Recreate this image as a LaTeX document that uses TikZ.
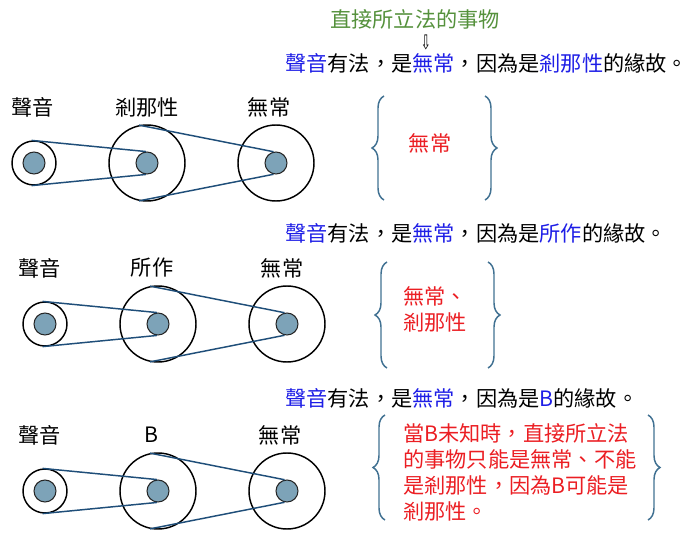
\documentclass[tikz,border=0pt]{standalone}
\usepackage{fontspec}
\setmainfont{Noto Sans CJK TC}
\newfontfamily\symfont{DejaVu Sans}
\usetikzlibrary{decorations.pathreplacing}
\definecolor{beltc}{RGB}{31,78,121}
\definecolor{bracec}{RGB}{65,113,146}
\definecolor{hubc}{RGB}{125,163,184}
\definecolor{kwblue}{RGB}{30,30,230}
\definecolor{kwred}{RGB}{235,30,35}
\definecolor{kwgreen}{RGB}{85,145,60}
\newcommand\kw[1]{\textcolor{kwblue}{#1}}
\begin{document}
\begin{tikzpicture}[x=0.75pt,y=-0.75pt,every node/.style={font=\fontsize{15.9}{19.5}\selectfont},wheel/.style={shape=circle,draw=black,line width=1.1pt,inner sep=0pt},wheelS/.style={wheel,minimum size=33pt},wheelL/.style={wheel,minimum size=57pt},hub/.style={shape=circle,draw=black!85,line width=0.8pt,fill=hubc,inner sep=0pt,minimum size=16.5pt},belt/.style={draw=beltc,line width=1.1pt},sent/.style={anchor=west,inner sep=0pt},note/.style={anchor=west,align=left,text=kwred,inner sep=0pt},brc/.style={draw=bracec,line width=1.1pt,decorate,decoration={brace,amplitude=9pt}}]
\useasboundingbox (0,0) rectangle (693,535);
\def\ya{163};
\def\yb{324};
\def\yc{491};

\node[text=kwgreen] (thing) at (415,19) {直接所立法的事物};
\node[inner sep=0pt] (arr) at (426,42) {\symfont\fontsize{15}{15}\selectfont\scalebox{0.6}[1]{⇩}};

% row 1
\node[sent] (s1) at (285,63) {\kw{聲音}有法，是\kw{無常}，因為是\kw{剎那性}的緣故。};
\node (a1) at (33,107) {聲音};
\node (b1) at (147,107) {剎那性};
\node (c1) at (269,107) {無常};
\node[wheelS] (aO1) at (34,\ya) {};
\node[wheelL] (bO1) at (147,\ya) {};
\node[wheelL] (cO1) at (276,\ya) {};
\node[hub] (aI1) at (34,\ya) {};
\node[hub] (bI1) at (147,\ya) {};
\node[hub] (cI1) at (276,\ya) {};
\draw[belt] (aO1.96) -- (bI1.96);
\draw[belt] (aO1.264) -- (bI1.264);
\draw[belt] (bO1.102) -- (cI1.102);
\draw[belt] (bO1.258) -- (cI1.258);
\draw[brc] (384,200) -- (384,96);
\draw[brc] (485,96) -- (485,200);
\node[text=kwred] (r1) at (430,143) {無常};

% row 2
\node[sent] (s2) at (285,233) {\kw{聲音}有法，是\kw{無常}，因為是\kw{所作}的緣故。};
\node (a2) at (40,268) {聲音};
\node (b2) at (152,268) {所作};
\node (c2) at (282,268) {無常};
\node[wheelS] (aO2) at (45,\yb) {};
\node[wheelL] (bO2) at (158,\yb) {};
\node[wheelL] (cO2) at (287,\yb) {};
\node[hub] (aI2) at (45,\yb) {};
\node[hub] (bI2) at (158,\yb) {};
\node[hub] (cI2) at (287,\yb) {};
\draw[belt] (aO2.96) -- (bI2.96);
\draw[belt] (aO2.264) -- (bI2.264);
\draw[belt] (bO2.102) -- (cI2.102);
\draw[belt] (bO2.258) -- (cI2.258);
\draw[brc] (387,368) -- (387,262);
\draw[brc] (488,262) -- (488,368);
\node[note] (r2) at (403,309) {無常、\\剎那性};

% row 3
\node[sent] (s3) at (285,398) {\kw{聲音}有法，是\kw{無常}，因為是\kw{B}的緣故。};
\node (a3) at (40,435) {聲音};
\node (b3) at (151,435) {B};
\node (c3) at (280,435) {無常};
\node[wheelS] (aO3) at (45,\yc) {};
\node[wheelL] (bO3) at (158,\yc) {};
\node[wheelL] (cO3) at (287,\yc) {};
\node[hub] (aI3) at (45,\yc) {};
\node[hub] (bI3) at (158,\yc) {};
\node[hub] (cI3) at (287,\yc) {};
\draw[belt] (aO3.96) -- (bI3.96);
\draw[belt] (aO3.264) -- (bI3.264);
\draw[belt] (bO3.102) -- (cI3.102);
\draw[belt] (bO3.258) -- (cI3.258);
\draw[brc] (385,520) -- (385,415);
\draw[brc] (648,415) -- (648,520);
\node[note] (r3) at (403,472) {當B未知時，直接所立法\\的事物只能是無常、不能\\是剎那性，因為B可能是\\剎那性。};
\end{tikzpicture}
\end{document}
